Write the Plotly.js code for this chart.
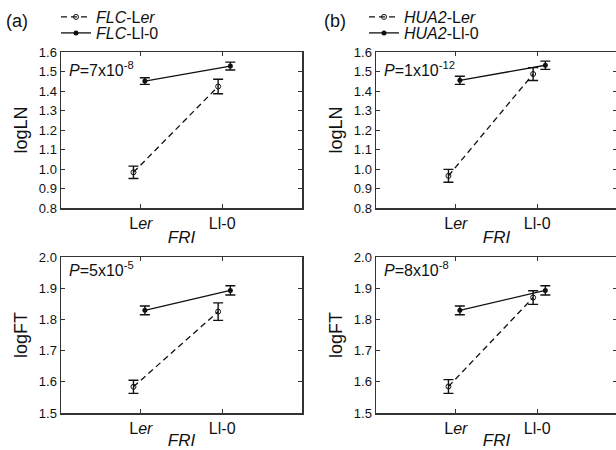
<!DOCTYPE html>
<html>
<head>
<meta charset="utf-8">
<script src="https://cdn.plot.ly/plotly-3.0.1.min.js"></script>
<style>
html,body{margin:0;padding:0;overflow:hidden;background:#fff;}
#chart{width:620px;height:450px;}
</style>
</head>
<body>
<div id="chart"></div>
<script>
// ---- data ----
const categories = [1, 2];
const tickLabels = ['L<i>er</i>', 'Ll-0'];

const lnFlcLer = [0.983, 1.423];
const lnFlcLerErr = [0.032, 0.037];
const lnFlcLl0 = [1.451, 1.528];
const lnFlcLl0Err = [0.017, 0.020];

const lnHuaLer = [0.965, 1.487];
const lnHuaLerErr = [0.033, 0.033];
const lnHuaLl0 = [1.455, 1.532];
const lnHuaLl0Err = [0.021, 0.021];

const ftFlcLer = [1.584, 1.825];
const ftFlcLerErr = [0.021, 0.028];
const ftFlcLl0 = [1.829, 1.893];
const ftFlcLl0Err = [0.014, 0.015];

const ftHuaLer = [1.585, 1.870];
const ftHuaLerErr = [0.022, 0.022];
const ftHuaLl0 = [1.829, 1.893];
const ftHuaLl0Err = [0.014, 0.015];

const pValues = ['<i>P</i>=7x10<sup>-8</sup>', '<i>P</i>=1x10<sup>-12</sup>',
                 '<i>P</i>=5x10<sup>-5</sup>', '<i>P</i>=8x10<sup>-8</sup>'];
const legendNames = ['<i>FLC</i>-L<i>er</i>', '<i>FLC</i>-Ll-0',
                     '<i>HUA2</i>-L<i>er</i>', '<i>HUA2</i>-Ll-0'];

// ---- styling ----
const FONT = 'Liberation Sans, Arial, sans-serif';
const W = 620, H = 450;
const dashOffset = [-0.09, -0.05];
const solidOffset = [0.05, 0.10];
const INK = '#111';

function shift(arr, off) { return arr.map((v, i) => v + off[i]); }

function pair(xa, ya, lerY, lerE, llY, llE, names, legends, show) {
  const dashed = {
    type: 'scatter', mode: 'lines+markers', xaxis: xa, yaxis: ya,
    x: shift(categories, dashOffset), y: lerY,
    error_y: {type: 'data', array: lerE, visible: true, width: 5, thickness: 1.4, color: INK},
    line: {color: INK, width: 1.3, dash: '6px,4px'},
    marker: {symbol: 'circle-open', size: 5, color: INK, line: {width: 1, color: INK}},
    name: names[0], legend: legends[0], showlegend: show, cliponaxis: false
  };
  const solid = {
    type: 'scatter', mode: 'lines+markers', xaxis: xa, yaxis: ya,
    x: shift(categories, solidOffset), y: llY,
    error_y: {type: 'data', array: llE, visible: true, width: 5, thickness: 1.4, color: INK},
    line: {color: INK, width: 1.3},
    marker: {symbol: 'circle', size: 5, color: INK},
    name: names[1], legend: legends[1], showlegend: show, cliponaxis: false
  };
  return [dashed, solid];
}

const traces = [].concat(
  pair('x', 'y', lnFlcLer, lnFlcLerErr, lnFlcLl0, lnFlcLl0Err, legendNames.slice(0, 2), ['legend', 'legend2'], true),
  pair('x2', 'y2', lnHuaLer, lnHuaLerErr, lnHuaLl0, lnHuaLl0Err, legendNames.slice(2, 4), ['legend3', 'legend4'], true),
  pair('x3', 'y3', ftFlcLer, ftFlcLerErr, ftFlcLl0, ftFlcLl0Err, legendNames.slice(0, 2), ['legend', 'legend2'], false),
  pair('x4', 'y4', ftHuaLer, ftHuaLerErr, ftHuaLl0, ftHuaLl0Err, legendNames.slice(2, 4), ['legend3', 'legend4'], false)
);

function px(v) { return v / W; }
function py(v) { return 1 - v / H; }

const domA = [px(61), px(302)];
const domB = [px(376), px(617)];
const domTop = [py(208), py(52)];
const domBot = [py(413), py(257)];

function xaxis(dom, anchor) {
  return {
    domain: dom, anchor: anchor, range: [0.02, 2.98],
    tickmode: 'array', tickvals: categories, ticktext: tickLabels,
    ticks: 'inside', ticklen: 4, tickwidth: 1, tickcolor: '#333',
    showline: true, linecolor: '#333', linewidth: 1.5, mirror: 'ticks',
    showgrid: false, zeroline: false,
    tickfont: {family: FONT, size: 16, color: INK},
    title: {text: '<i>FRI</i>', font: {family: FONT, size: 17, color: INK}, standoff: 0}
  };
}
function yaxis(dom, anchor, range, title) {
  return {
    domain: dom, anchor: anchor, range: range, dtick: 0.1, tickformat: '.1f',
    ticks: 'inside', ticklen: 4, tickwidth: 1, tickcolor: '#333',
    showline: true, linecolor: '#333', linewidth: 1.5, mirror: 'ticks',
    showgrid: false, zeroline: false,
    tickfont: {family: FONT, size: 13, color: INK},
    title: {text: title, font: {family: FONT, size: 18, color: INK}, standoff: 6}
  };
}

const annotations = [
  {text: '(a)', xref: 'paper', yref: 'paper', x: px(4), y: py(21), xanchor: 'left', yanchor: 'middle', showarrow: false, font: {family: FONT, size: 18, color: INK}},
  {text: '(b)', xref: 'paper', yref: 'paper', x: px(322), y: py(21), xanchor: 'left', yanchor: 'middle', showarrow: false, font: {family: FONT, size: 18, color: INK}}
];
const pTop = [1 - 5 / 156, 1 - 5 / 156, 1.0, 1.0];
['x', 'x2', 'x3', 'x4'].forEach((xa, i) => {
  const ya = xa.replace('x', 'y');
  annotations.push({
    text: pValues[i], xref: xa + ' domain', yref: ya + ' domain',
    x: 0.025, y: pTop[i], xanchor: 'left', yanchor: 'top', showarrow: false,
    font: {family: FONT, size: 16, color: INK}
  });
});

function legendAt(x, y) {
  return {
    orientation: 'v', xanchor: 'left', yanchor: 'middle', bgcolor: 'rgba(0,0,0,0)',
    font: {family: FONT, size: 16, color: INK}, tracegroupgap: 0, itemwidth: 30,
    x: px(x), y: py(y)
  };
}

const layout = {
  width: W, height: H,
  margin: {l: 0, r: 0, t: 0, b: 0},
  paper_bgcolor: '#fff', plot_bgcolor: '#fff',
  font: {family: FONT, color: INK},
  xaxis: xaxis(domA, 'y'),
  yaxis: yaxis(domTop, 'x', [0.8, 1.6], 'logLN'),
  xaxis2: xaxis(domB, 'y2'),
  yaxis2: yaxis(domTop, 'x2', [0.8, 1.6], 'logLN'),
  xaxis3: xaxis(domA, 'y3'),
  yaxis3: yaxis(domBot, 'x3', [1.5, 2.0], 'logFT'),
  xaxis4: xaxis(domB, 'y4'),
  yaxis4: yaxis(domBot, 'x4', [1.5, 2.0], 'logFT'),
  legend: legendAt(56, 17),
  legend2: legendAt(56, 33),
  legend3: legendAt(364, 17),
  legend4: legendAt(364, 33),
  annotations: annotations,
  showlegend: true
};

Plotly.newPlot('chart', traces, layout, {displayModeBar: false, staticPlot: true});
</script>
</body>
</html>
